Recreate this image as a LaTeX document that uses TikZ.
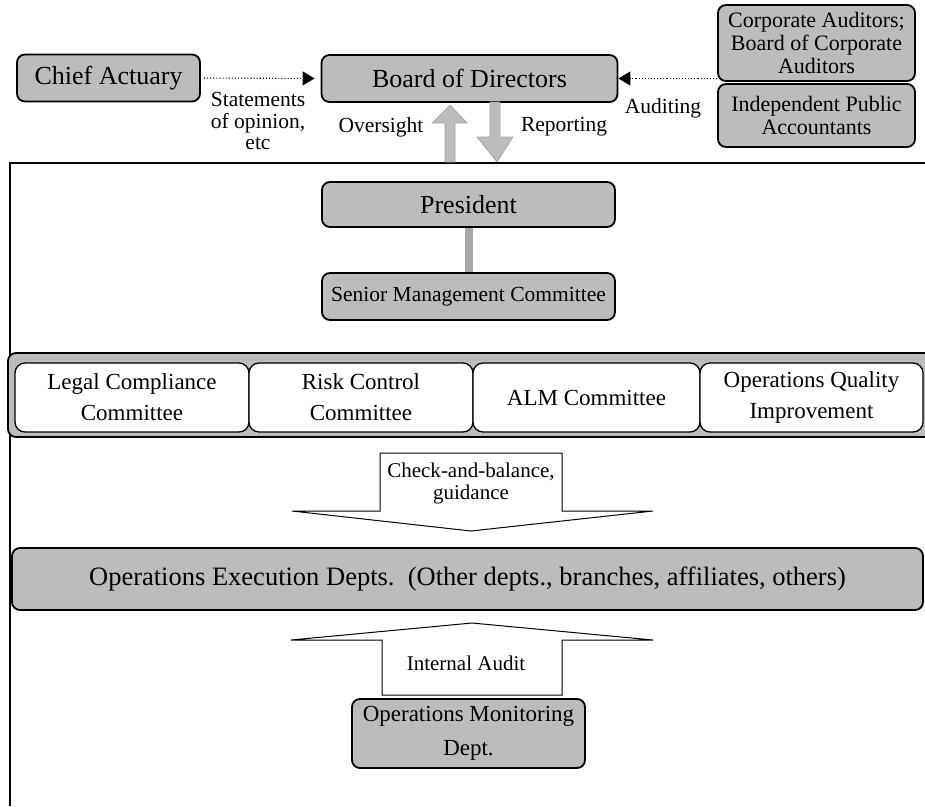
\documentclass[tikz,border=0pt]{standalone}
\usepackage{fontspec}
\setmainfont{Liberation Serif}
\usetikzlibrary{arrows.meta}
\definecolor{stip}{RGB}{188,188,188}
\definecolor{stipdark}{RGB}{160,160,160}
\begin{document}
\begin{tikzpicture}[x=1pt,y=-1pt,
  gbox/.style={draw=black, line width=1.8pt, rounded corners=8pt, fill=stip,
    inner sep=0pt, align=center},
  wbox/.style={draw=black, line width=1.3pt, rounded corners=10pt, fill=white,
    inner sep=0pt, align=center, font=\fontsize{23}{31}\selectfont},
  big/.style={font=\fontsize{26}{28}\selectfont},
  mid/.style={font=\fontsize{22}{23}\selectfont},
  lbl/.style={inner sep=0pt, align=center, font=\fontsize{21.5}{21.5}\selectfont},
  dotarrow/.style={dotted, line width=1.1pt, -{Triangle[length=12pt,width=14pt]}},
  garrow/.style={fill=stip, draw=stipdark, line width=0.6pt},
  warrow/.style={fill=white, draw=black, line width=1pt, line join=miter},
]
\useasboundingbox (0,0) rectangle (925,806);

% frame
\draw[line width=1.5pt] (925,163) -- (10,163) -- (10,806);

% top row
\node[gbox, big, minimum width=183pt, minimum height=47pt] (ca) at (108.5,78) {Chief Actuary};
\node[gbox, big, minimum width=296pt, minimum height=47pt] (bod) at (469.5,78.5) {Board of Directors};
\node[gbox, mid, minimum width=197pt, minimum height=76pt] (corp) at (816.5,43) {Corporate Auditors;\\Board of Corporate\\Auditors};
\node[gbox, mid, minimum width=197pt, minimum height=63pt] (ipa) at (816.5,115.5) {Independent Public\\Accountants};

\draw[dotarrow, shorten <=3pt, shorten >=6pt] (ca.east) -- (bod.west);
\draw[dotarrow, shorten >=0pt] (corp.south west |- bod.east) -- (bod.east);

\node[lbl] (stm) at (258,121) {Statements\\of opinion,\\etc};
\node[lbl] (ovs) at (381,127) {Oversight};
\node[lbl] (rep) at (564,127) {Reporting};
\node[lbl] (aud) at (663,108) {Auditing};

% oversight / reporting block arrows
\draw[garrow] (445,162) -- (445,123) -- (432,123) -- (450,105) -- (467,123) -- (455,123) -- (455,162) -- cycle;
\draw[garrow] (490,102) -- (490,137) -- (477,137) -- (497,162) -- (513,137) -- (500,137) -- (500,102) -- cycle;

% president
\node[gbox, big, minimum width=293pt, minimum height=45pt] (pres) at (468.5,204.5) {President};
\node[gbox, font=\fontsize{21.5}{23}\selectfont, minimum width=293pt, minimum height=47pt] (smc) at (468.5,296.5) {Senior Management Committee};
\draw[line width=8pt, draw=stipdark!70!stip] (pres.south) -- (smc.north);

% committees
\node[gbox, minimum width=927pt, minimum height=84pt] (comm) at (471.5,395) {};
\node[wbox, minimum width=234pt, minimum height=69pt] (legal) at (132,397.5) {Legal Compliance\\Committee};
\node[wbox, minimum width=224pt, minimum height=69pt] (risk) at (361,397.5) {Risk Control\\Committee};
\node[wbox, minimum width=227pt, minimum height=69pt] (alm) at (586.5,397.5) {ALM Committee};
\node[wbox, minimum width=223pt, minimum height=69pt] (oqi) at (811.5,397.5) {Operations Quality\\Improvement};

% check-and-balance arrow
\draw[warrow] (380,453) -- (562,453) -- (562,511) -- (653,511) -- (471,531) -- (292,511) -- (380,511) -- cycle;
\node[lbl, font=\fontsize{21}{22}\selectfont] (chk) at (471,483) {Check-and-balance,\\guidance};

% operations execution
\node[gbox, font=\fontsize{26.5}{28}\selectfont, minimum width=911pt, minimum height=62pt] (oed) at (467.5,579) {Operations Execution Depts.\ \ (Other depts., branches, affiliates, others)};

% internal audit arrow
\draw[warrow] (382,695) -- (382,640) -- (291,640) -- (472,623) -- (653,640) -- (562,640) -- (562,695) -- cycle;
\node[lbl, font=\fontsize{21}{22}\selectfont] (ia) at (466,663) {Internal Audit};

% monitoring
\node[gbox, font=\fontsize{23}{34}\selectfont, minimum width=233pt, minimum height=69pt] (omd) at (468.5,733.5) {Operations Monitoring\\Dept.};
\end{tikzpicture}
\end{document}
